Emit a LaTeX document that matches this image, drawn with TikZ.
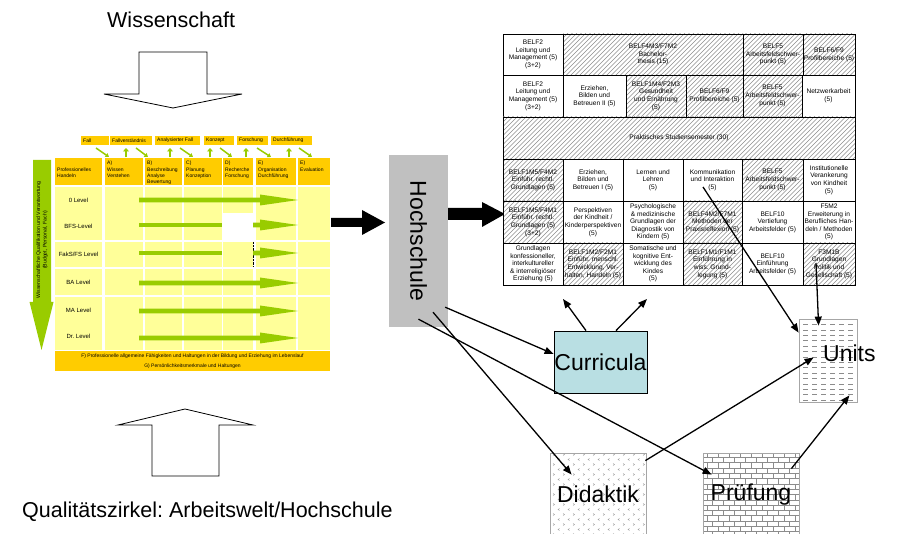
\documentclass[tikz,border=0pt]{standalone}
\usepackage{fontspec}
\usepackage{graphicx}
\setmainfont{Liberation Sans}
\frenchspacing
\usetikzlibrary{arrows.meta,calc}
\definecolor{ygold}{HTML}{FFCC00}
\definecolor{ylight}{HTML}{FFFF99}
\definecolor{ygreen}{HTML}{99CC00}
\definecolor{hsgray}{HTML}{C0C0C0}
\definecolor{curcol}{HTML}{B9DFE3}
\definecolor{patgray}{HTML}{8C8C8C}
\definecolor{boxgray}{HTML}{A6A6A6}
\newcommand\tcell[7]{\node[#2, minimum width={(#5-#3)*1pt}, minimum height={(#6-#4)*1pt}] (#1) at ({(#3+#5)/2},{(#4+#6)/2}) {#7};}
\begin{document}
\begin{tikzpicture}[x=1pt,y=-1pt,
  lbl/.style={font=\fontsize{21.5}{25}\selectfont, inner sep=0pt},
  boxlbl/.style={font=\fontsize{23}{27}\selectfont},
  wcell/.style={draw=black, line width=0.7pt, fill=white, inner sep=0pt, outer sep=0pt, align=center, font=\fontsize{6.6}{7.6}\selectfont},
  hatchbg/.style={path picture={
     \foreach \k in {-240,-235.5,...,200} {
       \draw[patgray, line width=0.5pt] ([xshift=\k pt, yshift=-30pt]path picture bounding box.center) -- ++(60,-60);
     }}},
  hcell/.style={wcell, hatchbg},
  dashbg/.style={path picture={
     \foreach \r in {-45,-39.6,...,46} {
       \draw[patgray, line width=0.6pt, dash pattern=on 5pt off 4pt] ([xshift=-34pt, yshift=\r pt]path picture bounding box.center) -- ++(70,0);
     }}},
  brickbg/.style={path picture={
     \foreach \r in {-47.7,-42.4,...,48} {
       \draw[patgray, line width=0.6pt] ([xshift=-55pt, yshift=\r pt]path picture bounding box.center) -- ++(110,0);
     }
     \foreach \c in {-55,-44,...,55} {
       \draw[patgray, line width=0.6pt, dash pattern=on 5.3pt off 5.3pt] ([xshift=\c pt, yshift=-47.7pt]path picture bounding box.center) -- ++(0,-100);
       \draw[patgray, line width=0.6pt, dash pattern=on 5.3pt off 5.3pt, dash phase=5.3pt] ([xshift=\c pt+5.5pt, yshift=-47.7pt]path picture bounding box.center) -- ++(0,-100);
     }}},
  chevbg/.style={path picture={
     \foreach \a in {-50,-40,...,50} {
       \foreach \b in {-45,-35,...,45} {
         \draw[patgray, line width=0.4pt] ([xshift=\a pt+1.5pt, yshift=\b pt+1pt]path picture bounding box.center) -- ++(-1.5,1) -- ++(1.5,1);
         \draw[patgray, line width=0.4pt] ([xshift=\a pt+5pt, yshift=\b pt-4pt]path picture bounding box.center) -- ++(1.5,1) -- ++(-1.5,1);
       }
     }}},
  ltxt/.style={font=\fontsize{5}{6.4}\selectfont, inner sep=0pt, align=left},
  levtxt/.style={font=\fontsize{6}{7}\selectfont, inner sep=0pt},
  gdiag/.style={draw=ygreen, line width=1.5pt, -{Triangle[length=3.5pt,width=4.5pt]}},
  gup/.style={draw=ygreen, line width=2.6pt, -{Triangle[length=3.5pt,width=6pt]}},
  conn/.style={line width=1.3pt, -{Triangle[length=9pt,width=7pt]}},
  blockarrow/.style={draw=black, line width=0.8pt, fill=white}
]
\useasboundingbox (0,0) rectangle (902,534);

% titles and block arrows
\node[lbl, anchor=base west] (wiss) at (107,28) {Wissenschaft};
\node[lbl, anchor=base west] (qual) at (22,517) {Qualitätszirkel: Arbeitswelt/Hochschule};
\draw[blockarrow] (139,52) -- (207,52) -- (207,94) -- (242,94) -- (173,108) -- (104,94) -- (139,94) -- cycle;
\draw[blockarrow] (152,476) -- (152,425) -- (118,425) -- (185,409) -- (253,425) -- (219,425) -- (219,476) -- cycle;

% ---------- left table ----------
\foreach \xa/\xb/\t [count=\i] in {81/109/Fall, 110/152/Fallverständnis, 155/200/Analysierter Fall, 204/234/Konzept, 237/268/Forschung, 271/312/Durchführung} {
  \fill[ygold] (\xa,136) rectangle (\xb,145);
  \node[ltxt, anchor=west] (top\i) at (\xa+2,140.5) {\t};
}
\foreach \xa/\xb in {96/109,136/148,180/193,220/232,257/271,299/312} {
  \draw[gdiag] (\xa,148) -- (\xb,157);
}
\foreach \xa in {126,170,210,246,289} {
  \draw[gup] (\xa,157.5) -- (\xa,148);
}
\foreach \xa/\xb in {55/102,105/143,145/182,184/222,223/253,256/296,298/330} {
  \fill[ygold] (\xa,158) rectangle (\xb,185);
  \foreach \ya/\yb in {187/240,242/267,269/295,297/350} {
    \fill[ylight] (\xa,\ya) rectangle (\xb,\yb);
  }
}
\fill[white] (223,213) rectangle (253,240.5);
\draw[densely dotted, line width=0.4pt] (253,242) -- (253,267);
\node[ltxt, anchor=west] (h0) at (57,172.5) {Professionelles\\Handeln};
\node[ltxt, anchor=north west] (hA) at (107,160.8) {A)\\Wissen\\Verstehen};
\node[ltxt, anchor=north west] (hB) at (147,160.8) {B)\\Beschreibung\\Analyse\\Bewertung};
\node[ltxt, anchor=north west] (hC) at (186,160.8) {C)\\Planung\\Konzeption};
\node[ltxt, anchor=north west] (hD) at (225,160.8) {D)\\Recherche\\Forschung};
\node[ltxt, anchor=north west] (hE) at (258,160.8) {E)\\Organisation\\Durchführung};
\node[ltxt, anchor=north west] (hF) at (300,160.8) {E)\\Evaluation};
\node[levtxt] (l0) at (78.5,200) {0 Level};
\node[levtxt] (l1) at (78.5,226) {BFS-Level};
\node[levtxt] (l2) at (78.5,254) {FakS/FS Level};
\node[levtxt] (l3) at (78.5,282) {BA Level};
\node[levtxt] (l4) at (78.5,310) {MA Level};
\node[levtxt] (l5) at (78.5,336) {Dr. Level};
\foreach \yc in {200,283,311,338} {
  \fill[ygreen] (139,\yc-2.3) -- (260,\yc-2.3) -- (260,\yc-5.5) -- (298,\yc) -- (260,\yc+5.5) -- (260,\yc+2.3) -- (139,\yc+2.3) -- cycle;
}
\foreach \yc in {225,253} {
  \fill[ygreen] (139,\yc-2.3) rectangle (222,\yc+2.3);
  \fill[ygreen] (253,\yc-2.3) -- (260,\yc-2.3) -- (260,\yc-5.5) -- (298,\yc) -- (260,\yc+5.5) -- (260,\yc+2.3) -- (253,\yc+2.3) -- cycle;
}
\fill[ygreen] (33,160) -- (51,160) -- (51,302) -- (53.5,302) -- (41.5,350) -- (29.5,302) -- (33,302) -- cycle;
\node[font=\fontsize{5.2}{6.6}\selectfont, inner sep=0pt, align=center, rotate=90] (gtxt) at (42,240) {Wissenschaftliche Qualifikation und Verantwortung\\(Budget, Personal, Fach)};
\fill[ygold] (55,351) rectangle (330,371);
\node[ltxt] (fF) at (192.5,356) {F) Professionelle allgemeine Fähigkeiten und Haltungen in der Bildung und Erziehung im Lebenslauf};
\node[ltxt] (fG) at (192.5,366) {G) Persönlichkeitsmerkmale und Haltungen};

% big black arrows
\fill[black] (331,218) -- (362,218) -- (362,210) -- (385,222.5) -- (362,235) -- (362,227) -- (331,227) -- cycle;
\node[fill=hsgray, minimum width=59pt, minimum height=172pt, inner sep=0pt, font=\fontsize{23}{27}\selectfont] (hs) at (418.5,241) {\rotatebox{-90}{Hochschule}};
\fill[black] (448,208) -- (482,208) -- (482,202) -- (505,214) -- (482,227) -- (482,220) -- (448,220) -- cycle;

% ---------- right table ----------
\tcell{r1a}{wcell}{503}{34}{563}{75}{BELF2\\Leitung und\\Management (5)\\(3+2)}
\tcell{r1b}{hcell}{563}{34}{743}{75}{BELF4M3/F7M2\\Bachelor-\\thesis (15)}
\tcell{r1c}{hcell}{743}{34}{803}{75}{BELF5\\Arbeitsfeldschwer-\\punkt (5)}
\tcell{r1d}{hcell}{803}{34}{855}{75}{BELF6/F9\\Profilbereiche (5)}
\tcell{r2a}{wcell}{503}{75}{563}{117}{BELF2\\Leitung und\\Management (5)\\(3+2)}
\tcell{r2b}{wcell}{563}{75}{626}{117}{Erziehen,\\Bilden und\\Betreuen II (5)}
\tcell{r2c}{hcell}{626}{75}{686}{117}{BELF1M4/F2M3\\Gesundheit\\und Ernährung\\(5)}
\tcell{r2d}{hcell}{686}{75}{743}{117}{BELF6/F9\\Profilbereiche (5)}
\tcell{r2e}{hcell}{743}{75}{802}{117}{BELF5\\Arbeitsfeldschwer-\\punkt (5)}
\tcell{r2f}{wcell}{802}{75}{855}{117}{Netzwerkarbeit\\(5)}
\tcell{r3}{hcell}{503}{117}{855}{159}{Praktisches Studiensemester (30)}
\tcell{r4a}{hcell}{503}{159}{563}{201}{BELF1M5/F4M2\\Einführ. rechtl.\\Grundlagen (5)}
\tcell{r4b}{wcell}{563}{159}{623}{201}{Erziehen,\\Bilden und\\Betreuen I (5)}
\tcell{r4c}{wcell}{623}{159}{683}{201}{Lernen und\\Lehren\\(5)}
\tcell{r4d}{wcell}{683}{159}{742}{201}{Kommunikation\\und Interaktion\\(5)}
\tcell{r4e}{hcell}{742}{159}{803}{201}{BELF5\\Arbeitsfeldschwer-\\punkt (5)}
\tcell{r4f}{wcell}{803}{159}{855}{201}{Institutionelle\\Verankerung\\von Kindheit\\(5)}
\tcell{r5a}{hcell}{503}{201}{563}{243}{BELF1M5/F4M1\\Einführ. rechtl.\\Grundlagen (5)\\(3+2)}
\tcell{r5b}{wcell}{563}{201}{623}{243}{Perspektiven\\der Kindheit /\\Kinderperspektiven\\(5)}
\tcell{r5c}{wcell}{623}{201}{683}{243}{Psychologische\\\& medizinische\\Grundlagen der\\Diagnostik von\\Kindern (5)}
\tcell{r5d}{hcell}{683}{201}{742}{243}{BELF4M2/F7M1\\Methoden der\\Praxisreflexion (5)}
\tcell{r5e}{wcell}{742}{201}{803}{243}{BELF10\\Vertiefung\\Arbeitsfelder (5)}
\tcell{r5f}{wcell}{803}{201}{855}{243}{F5M2\\Erweiterung in\\Berufliches Han-\\deln / Methoden\\(5)}
\tcell{r6a}{wcell}{503}{243}{563}{285}{Grundlagen\\konfessioneller,\\interkultureller\\\& interreligiöser\\Erziehung (5)}
\tcell{r6b}{hcell}{563}{243}{623}{285}{BELF1M2/F2M1\\Einführ. menschl.\\Entwicklung, Ver-\\halten, Handeln (5)}
\tcell{r6c}{wcell}{623}{243}{683}{285}{Somatische und\\kognitive Ent-\\wicklung des\\Kindes\\(5)}
\tcell{r6d}{hcell}{683}{243}{742}{285}{BELF1M1/F1M1\\Einführung in\\wiss. Grund-\\legung (5)}
\tcell{r6e}{wcell}{742}{243}{803}{285}{BELF10\\Einführung\\Arbeitsfelder (5)}
\tcell{r6f}{hcell}{803}{243}{855}{285}{F3M1B\\Grundlagen\\Politik und\\Gesellschaft (5)}

% ---------- lower boxes ----------
\node[draw=black, line width=0.8pt, fill=curcol, minimum width=93pt, minimum height=62pt, inner sep=0pt, boxlbl] (cur) at (600.5,362) {Curricula};
\node[draw=boxgray, line width=0.8pt, fill=white, dashbg, minimum width=58pt, minimum height=83pt, inner sep=0pt] (units) at (828,360.5) {};
\node[boxlbl, inner sep=0pt, anchor=base west] (unitslbl) at (823,362) {Units};
\node[draw=boxgray, line width=0.8pt, fill=white, chevbg, minimum width=96pt, minimum height=83pt, inner sep=0pt, boxlbl] (did) at (598,494.5) {Didaktik};
\node[draw=boxgray, line width=0.8pt, fill=white, brickbg, minimum width=96pt, minimum height=83pt, inner sep=0pt, boxlbl] (pru) at (751,494.5) {Prüfung};

% ---------- connectors ----------
\coordinate (cu1) at (563,299);
\coordinate (cu2) at (647,299);
\draw[conn] ($(hs.south east)+(-3,-20)$) -- ($(cur.west)+(0,-8)$);
\draw[conn] ($(hs.south)+(14.5,-15)$) -- ($(did.north west)+(22,22)$);
\draw[conn] ($(hs.south)+(0,-8)$) -- ($(pru.north west)+(9,22)$);
\draw[conn] ($(cur.north)+(-14.5,0)$) -- (cu1);
\draw[conn] ($(cur.north)+(15.5,0)$) -- (cu2);
\draw[conn] ($(r4d.center)+(-9.5,7)$) -- ($(units.north west)+(0,14)$);
\draw[conn] ($(r6f.center)+(-13,-1)$) -- ($(units.north west)+(20,7)$);
\draw[conn] ($(did.north east)+(-1,8)$) -- ($(units.west)+(15,-3)$);
\draw[conn] ($(pru.north east)+(-8,16)$) -- ($(units.south east)+(-8,-7)$);
\end{tikzpicture}
\end{document}
